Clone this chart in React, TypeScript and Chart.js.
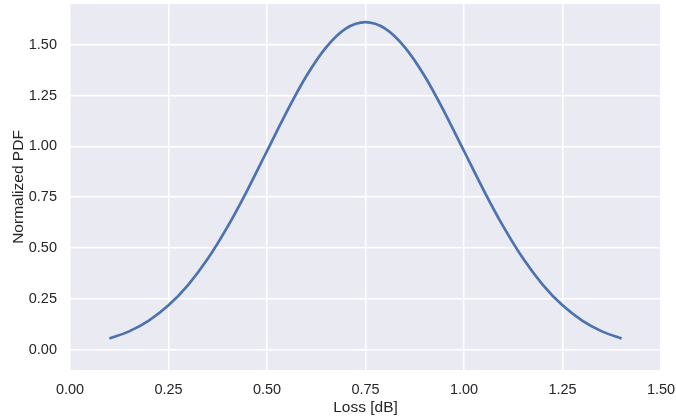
import React, { useEffect, useRef } from "react";
import { Chart, registerables } from "chart.js";

Chart.register(...registerables);

const lossDb = [0.1, 0.15, 0.2, 0.25, 0.3, 0.35, 0.4, 0.45, 0.5, 0.55, 0.6, 0.65, 0.7, 0.75, 0.8, 0.85, 0.9, 0.95, 1.0, 1.05, 1.1, 1.15, 1.2, 1.25, 1.3, 1.35, 1.4];
const pdf = [0.055, 0.09, 0.143, 0.218, 0.319, 0.448, 0.605, 0.784, 0.977, 1.17, 1.346, 1.487, 1.579, 1.611, 1.579, 1.487, 1.346, 1.17, 0.977, 0.784, 0.605, 0.448, 0.319, 0.218, 0.143, 0.09, 0.055];
const xTicks = [0, 0.25, 0.5, 0.75, 1.0, 1.25, 1.5];
const yTicks = [0, 0.25, 0.5, 0.75, 1.0, 1.25, 1.5];

const FONT = "'Liberation Sans', Arial, sans-serif";
const TEXT = "#262626";

const bgPlugin = {
  id: "plotBg",
  beforeDraw(chart: any) {
    const { ctx, chartArea } = chart;
    ctx.save();
    ctx.fillStyle = "#ffffff";
    ctx.fillRect(0, 0, chart.width, chart.height);
    ctx.fillStyle = "#EAEAF2";
    ctx.fillRect(chartArea.left, chartArea.top, chartArea.right - chartArea.left, chartArea.bottom - chartArea.top);
    ctx.restore();
  },
};

export default function App() {
  const ref = useRef<HTMLCanvasElement | null>(null);
  useEffect(() => {
    if (!ref.current) return;
    const chart = new Chart(ref.current, {
      type: "line",
      data: {
        datasets: [
          {
            data: lossDb.map((x, i) => ({ x, y: pdf[i] })),
            borderColor: "#4C72B0",
            borderWidth: 2.7,
            pointRadius: 0,
            cubicInterpolationMode: "monotone",
            fill: false,
          },
        ],
      },
      options: {
        animation: false,
        responsive: false,
        maintainAspectRatio: false,
        devicePixelRatio: 1,
        layout: { padding: { left: 0, right: 15, top: 4, bottom: 0 } },
        plugins: { legend: { display: false }, tooltip: { enabled: false } },
        scales: {
          x: {
            type: "linear",
            min: 0,
            max: 1.5,
            afterBuildTicks: (s: any) => {
              s.ticks = xTicks.map((v) => ({ value: v }));
            },
            afterFit: (s: any) => {
              s.height = 49;
              s.paddingLeft = 0;
              s.paddingRight = 0;
            },
            border: { display: false },
            grid: { color: "#ffffff", lineWidth: 1.5, drawTicks: false },
            ticks: {
              padding: 11,
              color: TEXT,
              font: { family: FONT, size: 14.5 },
              maxRotation: 0,
              callback: (v: any) => Number(v).toFixed(2),
            },
            title: {
              display: true,
              text: "Loss [dB]",
              color: TEXT,
              font: { family: FONT, size: 15.5 },
              padding: { top: 0, bottom: 2 },
            },
          },
          y: {
            type: "linear",
            min: -0.1,
            max: 1.7,
            afterBuildTicks: (s: any) => {
              s.ticks = yTicks.map((v) => ({ value: v }));
            },
            afterFit: (s: any) => {
              s.width = 70;
              s.paddingTop = 0;
              s.paddingBottom = 0;
            },
            border: { display: false },
            grid: { color: "#ffffff", lineWidth: 1.5, drawTicks: false },
            ticks: {
              padding: 13,
              color: TEXT,
              font: { family: FONT, size: 14.5 },
              callback: (v: any) => Number(v).toFixed(2),
            },
            title: {
              display: true,
              text: "Normalized PDF",
              color: TEXT,
              font: { family: FONT, size: 15.5 },
              padding: { top: 9, bottom: 0 },
            },
          },
        },
      },
      plugins: [bgPlugin],
    } as any);
    return () => chart.destroy();
  }, []);
  return (
    <div style={{ position: "absolute", left: 0, top: 0, width: 676, height: 419 }}>
      <canvas ref={ref} width={676} height={419} style={{ display: "block", width: 676, height: 419 }} />
    </div>
  );
}
